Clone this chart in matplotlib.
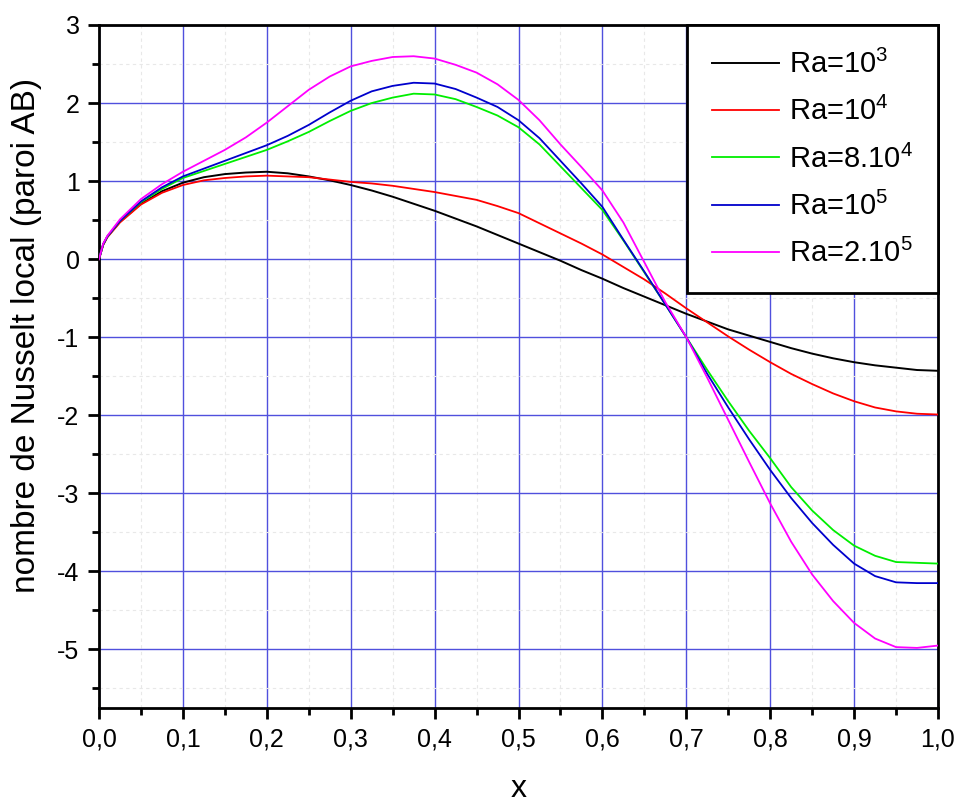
import matplotlib
matplotlib.use("Agg")
import matplotlib.pyplot as plt
from matplotlib.ticker import MultipleLocator, FuncFormatter

plt.rcParams['font.family'] = ['Liberation Sans', 'DejaVu Sans']
plt.rcParams['mathtext.fontset'] = 'custom'
plt.rcParams['mathtext.rm'] = 'Liberation Sans'
plt.rcParams['mathtext.it'] = 'Liberation Sans'
plt.rcParams['mathtext.bf'] = 'Liberation Sans'

x = [0.0, 0.005, 0.01, 0.025, 0.05, 0.075, 0.1, 0.125, 0.15, 0.175, 0.2, 0.225, 0.25,
     0.275, 0.3, 0.325, 0.35, 0.375, 0.4, 0.425, 0.45, 0.475, 0.5, 0.525, 0.55,
     0.575, 0.6, 0.625, 0.65, 0.675, 0.7, 0.725, 0.75, 0.775, 0.8, 0.825, 0.85,
     0.875, 0.9, 0.925, 0.95, 0.975, 1.0]

nu_ra1e3 = [0.0, 0.19, 0.29, 0.48, 0.71, 0.87, 0.98, 1.05, 1.09, 1.11, 1.12, 1.10, 1.06,
            1.01, 0.95, 0.88, 0.80, 0.71, 0.62, 0.52, 0.42, 0.31, 0.20, 0.09, -0.02,
            -0.14, -0.25, -0.37, -0.48, -0.59, -0.70, -0.80, -0.90, -0.98, -1.06, -1.14, -1.21,
            -1.27, -1.32, -1.36, -1.39, -1.42, -1.43]

nu_ra1e4 = [0.0, 0.18, 0.28, 0.47, 0.70, 0.85, 0.95, 1.01, 1.04, 1.06, 1.07, 1.06, 1.05,
            1.02, 0.99, 0.97, 0.94, 0.90, 0.86, 0.81, 0.76, 0.68, 0.59, 0.46, 0.33,
            0.20, 0.06, -0.10, -0.26, -0.44, -0.63, -0.81, -0.99, -1.16, -1.32, -1.47, -1.60,
            -1.72, -1.82, -1.90, -1.95, -1.98, -1.99]

nu_ra8e4 = [0.0, 0.19, 0.29, 0.49, 0.73, 0.90, 1.04, 1.13, 1.22, 1.31, 1.40, 1.51, 1.63,
            1.77, 1.90, 2.00, 2.07, 2.12, 2.11, 2.05, 1.95, 1.84, 1.69, 1.47, 1.19,
            0.91, 0.63, 0.24, -0.17, -0.58, -1.0, -1.42, -1.82, -2.20, -2.55, -2.92, -3.22,
            -3.47, -3.67, -3.80, -3.88, -3.89, -3.90]

nu_ra1e5 = [0.0, 0.19, 0.29, 0.49, 0.74, 0.92, 1.06, 1.16, 1.26, 1.36, 1.46, 1.58, 1.72,
            1.88, 2.03, 2.15, 2.22, 2.26, 2.25, 2.18, 2.07, 1.95, 1.78, 1.55, 1.26,
            0.97, 0.67, 0.25, -0.16, -0.58, -1.0, -1.47, -1.90, -2.31, -2.70, -3.06, -3.38,
            -3.66, -3.90, -4.06, -4.14, -4.15, -4.15]

nu_ra2e5 = [0.0, 0.20, 0.30, 0.51, 0.77, 0.96, 1.12, 1.26, 1.40, 1.56, 1.75, 1.96, 2.17,
            2.34, 2.47, 2.54, 2.59, 2.60, 2.57, 2.49, 2.39, 2.24, 2.04, 1.78, 1.47,
            1.18, 0.88, 0.47, -0.04, -0.55, -1.0, -1.52, -2.06, -2.60, -3.13, -3.62, -4.04,
            -4.38, -4.66, -4.86, -4.97, -4.98, -4.95]

series = [
    (nu_ra1e3, r'Ra=10$^{3}$', '#000000'),
    (nu_ra1e4, r'Ra=10$^{4}$', '#ff0000'),
    (nu_ra8e4, r'Ra=8.10$^{4}$', '#00ee00'),
    (nu_ra1e5, r'Ra=10$^{5}$', '#0000cc'),
    (nu_ra2e5, r'Ra=2.10$^{5}$', '#ff00ff'),
]

fig = plt.figure(figsize=(9.58, 8.10), dpi=100)
ax = fig.add_axes([99/958, 1-708/810, (938-99)/958, (708-25)/810])

for yv, lab, col in series:
    ax.plot(x, yv, color=col, lw=1.4 if col == '#000000' else 1.3, label=lab, zorder=3,
            solid_joinstyle='round')

ax.set_xlim(0, 1.0)
ax.set_ylim(-5.75, 3)
ax.xaxis.set_major_locator(MultipleLocator(0.1))
ax.xaxis.set_minor_locator(MultipleLocator(0.05))
ax.yaxis.set_major_locator(MultipleLocator(1))
ax.yaxis.set_minor_locator(MultipleLocator(0.5))
ax.xaxis.set_major_formatter(FuncFormatter(lambda v, p: f"{v:.1f}".replace('.', ',')))
ax.yaxis.set_major_formatter(FuncFormatter(lambda v, p: f"{int(round(v))}"))

ax.grid(True, which='major', color='#5050dd', lw=1.0, zorder=1)
ax.grid(True, which='minor', color='#e8e8e8', lw=0.8, ls=(0, (3, 3)), zorder=0)

ax.tick_params(which='major', direction='out', length=8, width=2, labelsize=18,
               top=False, right=False, pad=6)
ax.tick_params(which='minor', direction='out', length=5, width=2, top=False, right=False)
for s in ax.spines.values():
    s.set_linewidth(2)
    s.set_color('black')

ax.set_ylabel('nombre de Nusselt local (paroi AB)', fontsize=24)
ax.yaxis.set_label_coords(-0.068, 0.546)
ax.set_xlabel('x', fontsize=23, labelpad=16)

leg = ax.legend(loc='upper right', fontsize=21, frameon=True, fancybox=False,
                borderaxespad=0.0, handlelength=2.3, handletextpad=0.35,
                labelspacing=0.62, borderpad=0.85)
leg.get_frame().set_edgecolor('black')
leg.get_frame().set_linewidth(2)
leg.get_frame().set_alpha(1)
leg.set_zorder(5)

fig.savefig('out.png', dpi=100)
